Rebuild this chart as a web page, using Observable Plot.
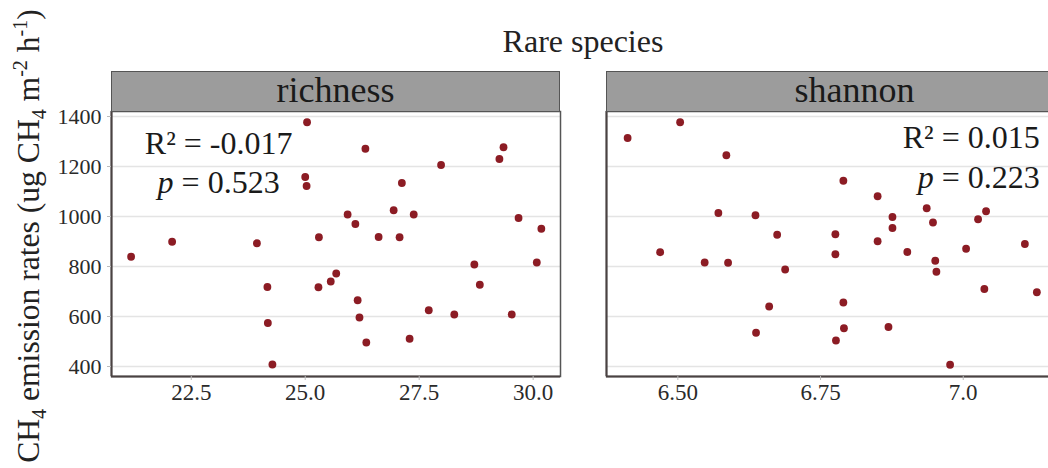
<!DOCTYPE html>
<html>
<head>
<meta charset="utf-8">
<script src="https://cdn.jsdelivr.net/npm/d3@7"></script>
<script src="https://cdn.jsdelivr.net/npm/@observablehq/plot@0.6"></script>
<style>
  html, body { margin: 0; padding: 0; background: #fff; }
  #root { position: relative; width: 1048px; height: 468px; overflow: hidden; font-family: "Liberation Serif", serif; color: #222; }
  .abs { position: absolute; }
  .strip { position: absolute; top: 71px; height: 41px; box-sizing: border-box; border: 1.5px solid #555; background: #9c9c9c; font-size: 36px; line-height: 37px; text-align: center; color: #1a1a1a; }
  #title { left: 583px; top: 25px; transform: translateX(-50%); font-size: 32px; line-height: 32px; white-space: nowrap; }
  #ylab { left: 29px; top: 236px; transform: translate(-50%, -50%) rotate(-90deg); font-size: 31.6px; line-height: 32px; white-space: nowrap; }
  #ylab sub, #ylab sup { font-size: 20px; line-height: 0; }
</style>
</head>
<body>
<div id="root">
  <div id="title" class="abs">Rare species</div>
  <div id="ylab" class="abs">CH<sub>4</sub> emission rates (ug CH<sub>4</sub> m<sup>-2</sup> h<sup>-1</sup>)</div>
</div>
<script>
// ---- data ----
const richnessX = [25.04, 25.0, 25.03, 21.18, 22.08, 23.94, 25.93, 26.10, 25.30, 25.68, 25.56, 25.29,
  24.17, 24.18, 24.28, 26.15, 26.19, 26.32, 27.98, 29.26, 29.35, 27.12, 26.94, 27.38, 26.61, 27.07,
  29.68, 30.18, 28.71, 30.08, 28.83, 27.71, 28.27, 29.53, 26.34, 27.29];
const richnessY = [1377, 1158, 1122, 839, 899, 893, 1008, 970, 917, 772, 740, 717,
  718, 574, 408, 665, 596, 1271, 1206, 1230, 1277, 1134, 1025, 1008, 918, 917,
  994, 951, 808, 816, 727, 625, 608, 608, 496, 511];
const shannonX = [6.412, 6.504, 6.585, 6.571, 6.636, 6.674, 6.469, 6.547, 6.588, 6.688, 6.660, 6.637,
  6.790, 6.850, 6.936, 7.040, 7.026, 6.876, 6.947, 6.876, 6.776, 6.850, 7.108, 7.005, 6.902, 6.776,
  6.951, 6.953, 7.037, 7.129, 6.790, 6.869, 6.791, 6.777, 6.977];
const shannonY = [1314, 1377, 1245, 1014, 1005, 927, 857, 816, 815, 788, 640, 535,
  1143, 1081, 1033, 1021, 989, 998, 976, 954, 929, 901, 890, 871, 858, 849,
  823, 779, 710, 697, 656, 558, 553, 504, 407];
const panels = ["richness", "shannon"];
const title = "Rare species";
const yTicks = [400, 600, 800, 1000, 1200, 1400];
const richnessTicks = [22.5, 25.0, 27.5, 30.0];
const richnessTickLabels = ["22.5", "25.0", "27.5", "30.0"];
const shannonTicks = [6.50, 6.75, 7.0];
const shannonTickLabels = ["6.50", "6.75", "7.0"];
const statsR2 = ["R\u00b2 = -0.017", "R\u00b2 = 0.015"];
const statsP = ["p = 0.523", "p = 0.223"];

// ---- chart ----
const root = document.getElementById("root");
const FONT = "Liberation Serif";
const yDomain = [360, 1420];
const dotColor = "#8c1c24";

function makePanel(xs, ys, opts) {
  const data = xs.map((x, i) => ({x, y: ys[i]}));
  const marks = [
    Plot.gridY(yTicks, {stroke: "#e4e4e4", strokeOpacity: 1, strokeWidth: 1.5}),
    Plot.frame({stroke: "#555", strokeWidth: 1.5}),
    Plot.ruleX([opts.xDomain[0]], {stroke: "#4a4242", strokeWidth: 2}),
    Plot.ruleY([yDomain[0]], {stroke: "#4a4242", strokeWidth: 2}),
    Plot.axisX(opts.ticks, {tickSize: 4, tickPadding: 3, stroke: "#bbb", fill: "#2a2a2a", fontSize: 23, label: null,
      tickFormat: (d) => opts.labels[opts.ticks.indexOf(d)]}),
    Plot.dot(data, {x: "x", y: "y", r: 3.9, fill: dotColor, stroke: "none"}),
    Plot.text([opts.r2], {x: opts.ax, y: opts.ay1, text: d => d, fontSize: 32, fill: "#1a1a1a", textAnchor: opts.anchor, lineAnchor: "bottom"}),
    Plot.text([opts.p], {x: opts.ax, y: opts.ay2, text: d => d, fontSize: 32, fill: "#1a1a1a", textAnchor: opts.anchor, lineAnchor: "bottom"})
  ];
  if (opts.yAxis) {
    marks.push(Plot.axisY(yTicks, {tickSize: 4, tickPadding: 6, stroke: "#bbb", fill: "#2a2a2a", fontSize: 22, label: null,
      tickFormat: (d) => String(d)}));
  }
  const svg = Plot.plot({
    width: opts.width, height: 299,
    marginLeft: opts.marginLeft, marginRight: 2, marginTop: 1, marginBottom: 33,
    x: {domain: opts.xDomain, axis: null, label: null},
    y: {domain: yDomain, axis: null, label: null},
    style: {fontFamily: FONT, background: "transparent", overflow: "visible", color: "#333"},
    marks
  });
  // italic p
  d3.select(svg).selectAll("text").each(function () {
    const t = this.textContent;
    if (t.startsWith("p = ") && this.children.length === 0) {
      const rest = t.slice(1);
      this.textContent = "";
      d3.select(this).append("tspan").attr("font-style", "italic").text("p");
      d3.select(this).append("tspan").text(rest);
    }
  });
  svg.style.position = "absolute";
  svg.style.left = opts.left + "px";
  svg.style.top = "110px";
  return svg;
}

root.appendChild(makePanel(richnessX, richnessY, {
  width: 562, marginLeft: 111, left: 0, xDomain: [20.75, 30.6], yAxis: true,
  ticks: richnessTicks, labels: richnessTickLabels,
  r2: statsR2[0], p: statsP[0], ax: 23.1, ay1: 1252, ay2: 1096, anchor: "middle"
}));
root.appendChild(makePanel(shannonX, shannonY, {
  width: 548, marginLeft: 46, left: 560, xDomain: [6.375, 7.251], yAxis: false,
  ticks: shannonTicks, labels: shannonTickLabels,
  r2: statsR2[1], p: statsP[1], ax: 7.134, ay1: 1276, ay2: 1116, anchor: "end"
}));

// strips
[[111, 449], [606, 500]].forEach(([left, w], i) => {
  const s = document.createElement("div");
  s.className = "strip";
  s.style.left = left + "px";
  s.style.width = w + "px";
  s.textContent = panels[i];
  if (i === 1) { s.style.textAlign = "left"; s.style.paddingLeft = (795 - 606 - 1.5) + "px"; }
  root.appendChild(s);
});
</script>
</body>
</html>
